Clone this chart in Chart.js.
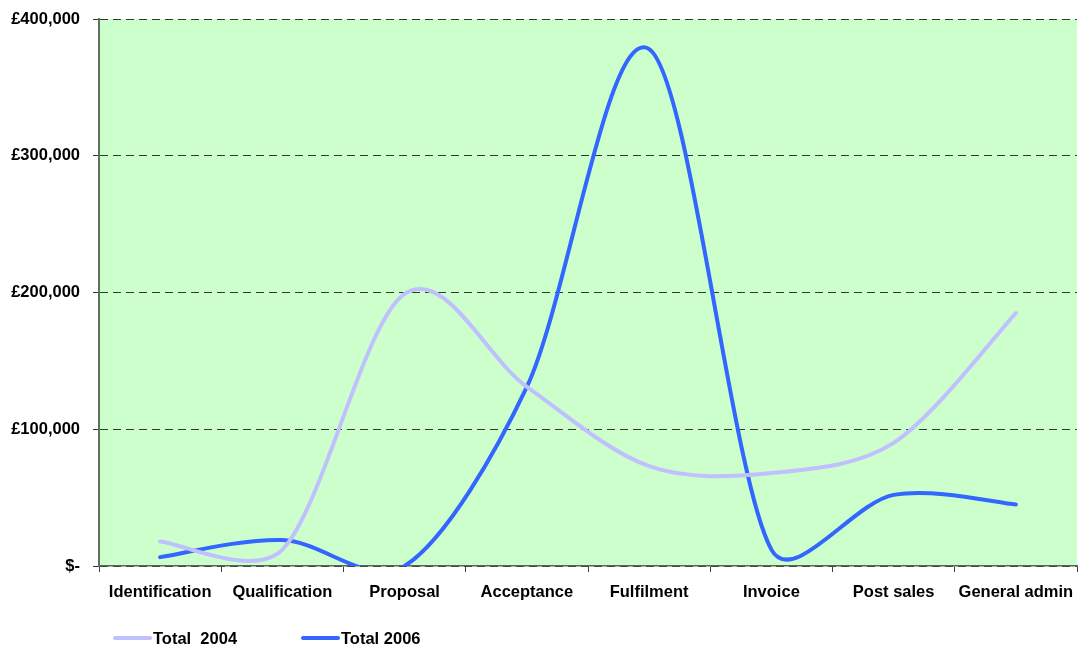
<!DOCTYPE html>
<html>
<head>
<meta charset="utf-8">
<script src="https://cdn.jsdelivr.net/npm/chart.js@4/dist/chart.umd.min.js"></script>
<style>
  html, body { margin: 0; padding: 0; background: #ffffff; }
  #wrap { width: 1079px; height: 650px; }
</style>
</head>
<body>
<div id="wrap"><canvas id="c" width="1079" height="650"></canvas></div>
<script>
// Cost by stage of the sales process
const categories = ['Identification', 'Qualification', 'Proposal', 'Acceptance', 'Fulfilment', 'Invoice', 'Post sales', 'General admin'];
const total2004 = [18000, 12000, 199000, 131000, 73000, 68000, 90000, 185000];
const total2006 = [6500, 19000, 0, 131000, 378000, 12000, 52000, 45000];
const seriesNames = ['Total  2004', 'Total 2006'];
const yTickValues = [0, 100000, 200000, 300000, 400000];
const yTickLabels = ['$-', '£100,000', '£200,000', '£300,000', '£400,000'];

const colour2004 = '#c0c0ff';
const colour2006 = '#3366ff';
const labelFont = { family: '"Liberation Sans", Arial, sans-serif', size: 16.5, weight: 'bold' };

// green plot background
const plotBackground = {
  id: 'plotBackground',
  beforeDraw(chart) {
    const { ctx, chartArea: a } = chart;
    ctx.save();
    ctx.fillStyle = '#ccffcc';
    ctx.fillRect(a.left, a.top, a.right - a.left, a.bottom - a.top);
    ctx.restore();
  }
};

// spreadsheet-style smoothing: Catmull-Rom tangents (1/6 of the chord
// between neighbours), each handle limited to a third of its own segment
const smoothCurves = {
  id: 'smoothCurves',
  beforeDatasetsDraw(chart) {
    chart.data.datasets.forEach((ds, di) => {
      const meta = chart.getDatasetMeta(di);
      const pts = meta.data;
      const n = pts.length;
      for (let i = 0; i < n; i++) {
        const p = pts[i];
        const prev = pts[Math.max(i - 1, 0)];
        const next = pts[Math.min(i + 1, n - 1)];
        const tx = (next.x - prev.x) / 6;
        const ty = (next.y - prev.y) / 6;
        const tl = Math.hypot(tx, ty) || 1;
        const dPrev = Math.hypot(p.x - prev.x, p.y - prev.y);
        const dNext = Math.hypot(next.x - p.x, next.y - p.y);
        const sIn = Math.min(1, (dPrev / 3) / tl);
        const sOut = Math.min(1, (dNext / 3) / tl);
        p.cp1x = p.x - tx * sIn;
        p.cp1y = p.y - ty * sIn;
        p.cp2x = p.x + tx * sOut;
        p.cp2y = p.y + ty * sOut;
      }
      meta.dataset._pointsUpdated = true;
    });
  }
};

// line-sample legend along the bottom left
const lineLegend = {
  id: 'lineLegend',
  afterDraw(chart) {
    const { ctx } = chart;
    const starts = [115, 303];
    const y = 638;
    ctx.save();
    ctx.font = 'bold 16.5px "Liberation Sans", Arial, sans-serif';
    ctx.textBaseline = 'middle';
    ctx.fillStyle = '#000000';
    chart.data.datasets.forEach((ds, i) => {
      const x = starts[i];
      ctx.strokeStyle = ds.borderColor;
      ctx.lineWidth = 4;
      ctx.lineCap = 'round';
      ctx.beginPath();
      ctx.moveTo(x, y);
      ctx.lineTo(x + 35, y);
      ctx.stroke();
      ctx.fillText(ds.label, x + 38, y + 1);
    });
    ctx.restore();
  }
};

const lineStyle = { borderWidth: 4, pointRadius: 0, tension: 0.4, borderCapStyle: 'round', borderJoinStyle: 'round',
  clip: { left: 3, top: 3, right: 3, bottom: 0 } };

new Chart(document.getElementById('c'), {
  type: 'line',
  data: {
    labels: categories,
    datasets: [
      Object.assign({ label: seriesNames[0], data: total2004, borderColor: colour2004, backgroundColor: colour2004 }, lineStyle),
      Object.assign({ label: seriesNames[1], data: total2006, borderColor: colour2006, backgroundColor: colour2006 }, lineStyle)
    ]
  },
  options: {
    responsive: false,
    animation: false,
    devicePixelRatio: 1,
    layout: { padding: { top: 19, right: 2, bottom: 0, left: 0 } },
    plugins: { legend: { display: false }, tooltip: { enabled: false } },
    scales: {
      x: {
        offset: true,
        z: 1,
        grid: { offset: true, drawOnChartArea: false, drawTicks: true, tickLength: 6, color: '#404040', lineWidth: 1 },
        border: { color: '#556655', width: 1.5 },
        ticks: { color: '#000000', font: labelFont, padding: 11, maxRotation: 0, autoSkip: false },
        afterFit(scale) { scale.height = 84; scale.paddingLeft = 0; scale.paddingRight = 0; }
      },
      y: {
        min: 0,
        max: 400000,
        afterBuildTicks(scale) { scale.ticks = yTickValues.map(v => ({ value: v })); },
        grid: { color: '#303830', lineWidth: 1, tickLength: 6, tickBorderDash: [] },
        border: { color: '#607060', width: 2, dash: [8, 5] },
        ticks: {
          color: '#000000', font: labelFont, padding: 13,
          callback(value) { return yTickLabels[yTickValues.indexOf(value)]; }
        },
        afterFit(scale) { scale.width = 99; scale.paddingTop = 0; scale.paddingBottom = 0; }
      }
    }
  },
  plugins: [plotBackground, smoothCurves, lineLegend]
});
</script>
</body>
</html>
